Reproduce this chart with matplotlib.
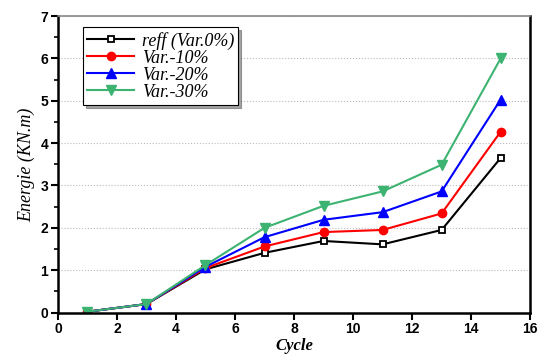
import matplotlib.pyplot as plt
from matplotlib.ticker import MultipleLocator

cycles = [1, 3, 5, 7, 9, 11, 13, 15]
reff = [0.02, 0.20, 1.02, 1.41, 1.69, 1.61, 1.95, 3.65]
var10 = [0.02, 0.20, 1.05, 1.56, 1.90, 1.95, 2.34, 4.27]
var20 = [0.02, 0.20, 1.08, 1.78, 2.19, 2.37, 2.86, 5.03]
var30 = [0.02, 0.20, 1.12, 2.00, 2.52, 2.86, 3.49, 6.00]
labels = ['reff (Var.0%)', 'Var.-10%', 'Var.-20%', 'Var.-30%']

fig = plt.figure(figsize=(5.41, 3.58), dpi=100)
ax = fig.add_axes([0.107, 0.127, 0.873, 0.828])

ax.plot(cycles, reff, color='black', marker='s', markersize=5, markerfacecolor='white',
        markeredgewidth=1.3, lw=1.5, label=labels[0])
ax.plot(cycles, var10, color='red', marker='o', markersize=6, lw=1.5, label=labels[1])
ax.plot(cycles, var20, color='blue', marker='^', markersize=6.5, lw=1.5, label=labels[2])
ax.plot(cycles, var30, color='#3cb371', marker='v', markersize=6.5, lw=1.5, label=labels[3])

ax.set_xlim(0, 16)
ax.set_ylim(0, 7)
ax.xaxis.set_major_locator(MultipleLocator(2))
ax.yaxis.set_major_locator(MultipleLocator(1))
ax.yaxis.set_minor_locator(MultipleLocator(0.5))
ax.grid(axis='y', which='major', linestyle=':', color='#bbbbbb', lw=0.8)
ax.set_axisbelow(True)

for s in ['left', 'bottom', 'right']:
    ax.spines[s].set_linewidth(1.8)
ax.spines['top'].set_linewidth(1.2)
ax.spines['top'].set_color('#888888')
ax.tick_params(which='major', direction='out', length=5, width=1.5, pad=2)
ax.tick_params(which='minor', direction='out', length=3, width=1.2)
ax.tick_params(axis='y', which='both', right=False)

for lab in ax.get_xticklabels() + ax.get_yticklabels():
    lab.set_fontfamily('Liberation Sans')
    lab.set_fontweight('bold')
    lab.set_fontsize(10)

ax.set_xlabel('Cycle', family='Liberation Serif', style='italic', weight='bold', fontsize=12,
              labelpad=1)
ax.set_ylabel('Energie (KN.m)', family='Liberation Serif', style='italic', fontsize=13,
              labelpad=4)

leg = ax.legend(loc='upper left', bbox_to_anchor=(0.053, 0.963), borderaxespad=0,
                frameon=True, fancybox=False, shadow=True,
                prop={'family': 'Liberation Serif', 'style': 'italic', 'size': 13},
                handlelength=2.6, borderpad=0.25, labelspacing=0.0, handletextpad=0.4)
leg.get_frame().set_edgecolor('black')
leg.get_frame().set_linewidth(0.8)

fig.savefig('out.png', dpi=100)
